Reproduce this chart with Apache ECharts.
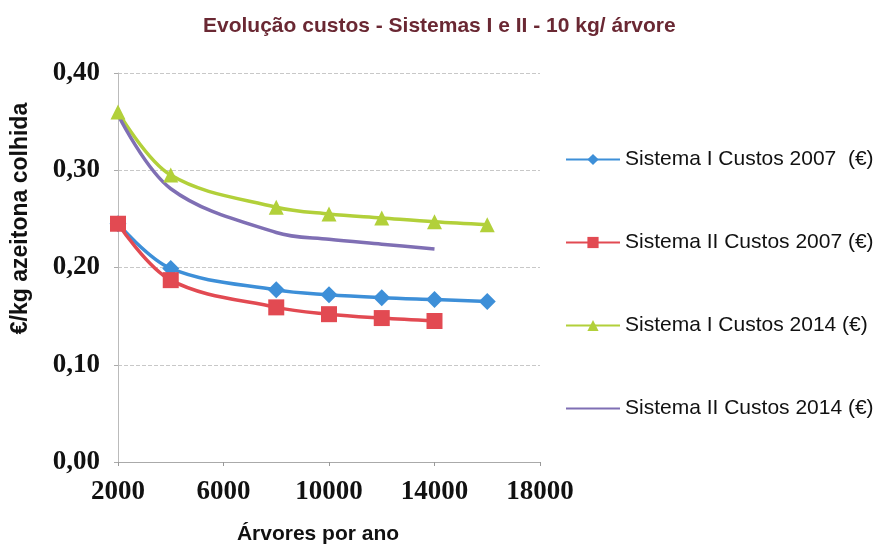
<!DOCTYPE html>
<html><head><meta charset="utf-8">
<script src="https://cdn.jsdelivr.net/npm/echarts@6/dist/echarts.min.js"></script>
<style>html,body{margin:0;padding:0;background:#fff}#c{width:886px;height:550px}</style>
</head><body><div id="c"></div>
<script>
const xTickLabels = [2000, 6000, 10000, 14000, 18000];
const xS1_2007 = [2000, 4000, 8000, 10000, 12000, 14000, 16000];
const yS1_2007 = [0.245, 0.199, 0.177, 0.172, 0.169, 0.167, 0.165];
const xS2_2007 = [2000, 4000, 8000, 10000, 12000, 14000];
const yS2_2007 = [0.245, 0.187, 0.159, 0.152, 0.148, 0.145];
const xS1_2014 = [2000, 4000, 8000, 10000, 12000, 14000, 16000];
const yS1_2014 = [0.360, 0.295, 0.262, 0.255, 0.251, 0.247, 0.244];
const xS2_2014 = [2000, 4000, 8000, 10000, 12000, 14000];
const yS2_2014 = [0.357, 0.281, 0.236, 0.229, 0.224, 0.219];
const seriesNames = ['Sistema I Custos 2007  (€)', 'Sistema II Custos 2007 (€)', 'Sistema I Custos 2014 (€)', 'Sistema II Custos 2014 (€)'];

const zip = (xs, ys) => xs.map((x, i) => [x, ys[i]]);
const chart = echarts.init(document.getElementById('c'));
const fmt = v => v.toFixed(2).replace('.', ',');
chart.setOption({
  backgroundColor: '#fff',
  animation: false,
  title: {
    text: 'Evolução custos - Sistemas I e II - 10 kg/ árvore',
    left: 198, top: 11,
    textStyle: { fontFamily: 'Liberation Sans', fontWeight: 'bold', fontSize: 21, color: '#6a2833' }
  },
  grid: { left: 118, right: 346, top: 73, bottom: 88 },
  legend: {
    orient: 'vertical', left: 560, top: 144,
    itemWidth: 54, itemHeight: 14, itemGap: 62,
    textStyle: { fontFamily: 'Liberation Sans', fontSize: 21, color: '#111' },
    data: [seriesNames[0], seriesNames[1], seriesNames[2], { name: seriesNames[3], itemStyle: { opacity: 0 } }]
  },
  xAxis: {
    type: 'value', min: 2000, max: 18000,
    name: 'Árvores por ano', nameLocation: 'middle', nameGap: 62,
    nameTextStyle: { fontFamily: 'Liberation Sans', fontWeight: 'bold', fontSize: 21, color: '#111', padding: [0, 22, 0, 0] },
    axisLine: { show: true, lineStyle: { color: '#aaa' } },
    axisTick: { show: true, customValues: xTickLabels, length: 4, lineStyle: { color: '#999' } },
    axisLabel: { customValues: xTickLabels, formatter: v => String(v), margin: 17, fontFamily: 'Liberation Serif', fontWeight: 'bold', fontSize: 27, color: '#111' },
    splitLine: { show: false }
  },
  yAxis: {
    type: 'value', min: 0, max: 0.4, interval: 0.1,
    name: '€/kg azeitona colhida', nameLocation: 'middle', nameGap: 86,
    nameTextStyle: { fontFamily: 'Liberation Sans', fontWeight: 'bold', fontSize: 23, color: '#111', padding: [0, 0, 0, 98] },
    axisLine: { show: true, lineStyle: { color: '#bbb' } },
    axisTick: { show: true, length: 4, lineStyle: { color: '#aaa' } },
    axisLabel: { formatter: fmt, margin: 18, fontFamily: 'Liberation Serif', fontWeight: 'bold', fontSize: 27, color: '#111' },
    splitLine: { show: true, lineStyle: { color: '#c8c8c8', type: 'dashed', width: 1 } }
  },
  series: [
    { name: seriesNames[0], type: 'line', smooth: 0.35, data: zip(xS1_2007, yS1_2007),
      symbol: 'diamond', symbolSize: 17, color: '#3d8fd8', lineStyle: { width: 3.5 } },
    { name: seriesNames[1], type: 'line', smooth: 0.35, data: zip(xS2_2007, yS2_2007),
      symbol: 'rect', symbolSize: 16, color: '#e24a52', lineStyle: { width: 3.5 } },
    { name: seriesNames[2], type: 'line', smooth: 0.35, data: zip(xS1_2014, yS1_2014),
      symbol: 'triangle', symbolSize: 15, color: '#b2d03a', lineStyle: { width: 3.5 } },
    { name: seriesNames[3], type: 'line', smooth: 0.35, data: zip(xS2_2014, yS2_2014),
      symbol: 'none', color: '#7f6fb4', lineStyle: { width: 3.5 } }
  ]
});
</script></body></html>
